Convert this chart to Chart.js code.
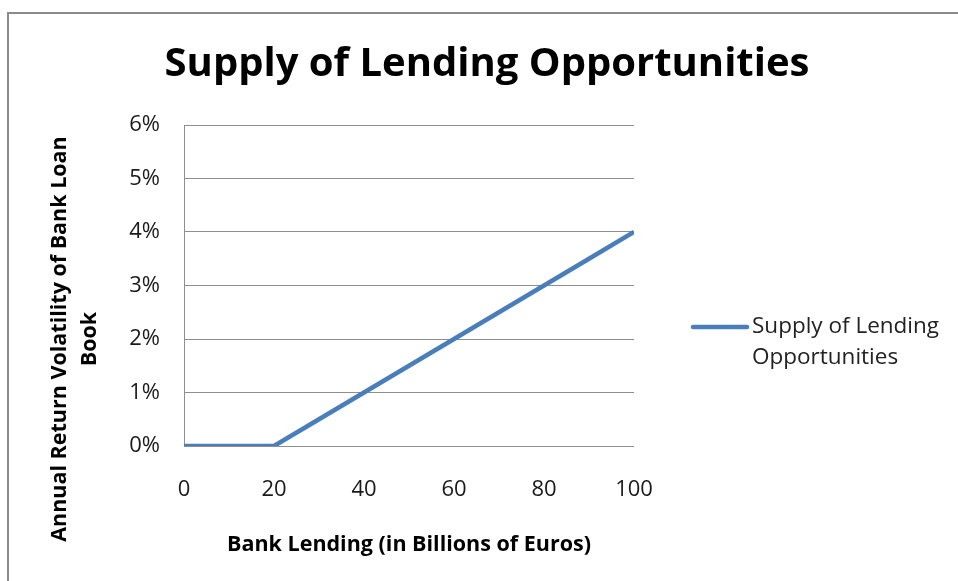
<!DOCTYPE html>
<html>
<head>
<meta charset="utf-8">
<title>Supply of Lending Opportunities</title>
<script src="https://cdn.jsdelivr.net/npm/chart.js@4"></script>
<style>
    html, body { margin: 0; padding: 0; background: #fff; }
    #wrap { width: 958px; height: 581px; }
</style>
</head>
<body>
<div id="wrap"><canvas id="supplyChart" width="958" height="581"></canvas></div>
<script>
// lending in billions of euros, volatility as a fraction
const lending = [0, 10, 20, 30, 40, 50, 60, 70, 80, 90, 100];
const volatility = [0, 0, 0, 0.005, 0.01, 0.015, 0.02, 0.025, 0.03, 0.035, 0.04];
const xTicks = [0, 20, 40, 60, 80, 100];
const yTicks = [0, 0.01, 0.02, 0.03, 0.04, 0.05, 0.06];

const chartTitle = 'Supply of Lending Opportunities';
const seriesName = ['Supply of Lending', 'Opportunities'];
const xTitle = 'Bank Lending (in Billions of Euros)';
const yTitle = ['Annual Return Volatility of Bank Loan', 'Book'];

const FONT = '"Open Sans", sans-serif';
const LINE_COLOR = '#4a7ebb';
const GRID_COLOR = '#8e8e8e';

// frame, title, rotated y title and the wrapped legend
const decorations = {
    id: 'decorations',
    beforeDraw(chart) {
        const ctx = chart.ctx;
        ctx.save();
        ctx.fillStyle = '#fff';
        ctx.fillRect(0, 0, chart.width, chart.height);
        ctx.strokeStyle = '#8a8a8a';
        ctx.lineWidth = 2;
        ctx.beginPath();
        ctx.moveTo(8, chart.height);
        ctx.lineTo(8, 13);
        ctx.lineTo(chart.width, 13);
        ctx.stroke();
        ctx.restore();
    },
    afterDraw(chart) {
        const ctx = chart.ctx;
        ctx.save();
        ctx.fillStyle = '#000';
        ctx.textAlign = 'center';
        ctx.textBaseline = 'middle';
        ctx.font = 'bold 40px ' + FONT;
        ctx.fillText(chartTitle, 487, 65);

        ctx.font = 'bold 21.5px ' + FONT;
        ctx.translate(75, 339);
        ctx.rotate(-Math.PI / 2);
        ctx.fillText(yTitle[0], 0, -15);
        ctx.fillText(yTitle[1], 0, 15);
        ctx.restore();

        ctx.save();
        const ds = chart.data.datasets[0];
        ctx.strokeStyle = ds.borderColor;
        ctx.lineWidth = ds.borderWidth;
        ctx.lineCap = 'round';
        ctx.beginPath();
        ctx.moveTo(693, 327);
        ctx.lineTo(747, 327);
        ctx.stroke();
        ctx.fillStyle = '#222';
        ctx.font = '22.5px ' + FONT;
        ctx.textAlign = 'left';
        ctx.textBaseline = 'middle';
        ctx.fillText(seriesName[0], 752, 327);
        ctx.fillText(seriesName[1], 752, 358);
        ctx.restore();
    }
};

new Chart(document.getElementById('supplyChart'), {
    type: 'scatter',
    data: {
        datasets: [{
            label: seriesName.join(' '),
            data: lending.map((x, i) => ({ x: x, y: volatility[i] })),
            showLine: true,
            borderColor: LINE_COLOR,
            borderWidth: 4.5,
            pointRadius: 0,
            tension: 0
        }]
    },
    options: {
        responsive: false,
        animation: false,
        layout: { padding: { top: 125, right: 324, bottom: 19, left: 0 } },
        plugins: {
            legend: { display: false },
            title: { display: false },
            tooltip: { enabled: false }
        },
        scales: {
            x: {
                type: 'linear',
                min: 0,
                max: 100,
                afterBuildTicks: scale => { scale.ticks = xTicks.map(v => ({ value: v })); },
                afterFit: scale => { scale.height = 116; },
                grid: { display: false, drawTicks: false },
                border: { display: false },
                ticks: {
                    padding: 31,
                    color: '#1a1a1a',
                    font: { family: FONT, size: 22 }
                },
                title: {
                    display: true,
                    text: xTitle,
                    color: '#000',
                    font: { family: FONT, size: 21.5, weight: 'bold' }
                }
            },
            y: {
                min: 0,
                max: 0.06,
                afterBuildTicks: scale => { scale.ticks = yTicks.map(v => ({ value: v })); },
                afterFit: scale => { scale.width = 184; },
                grid: { color: GRID_COLOR, lineWidth: 1, drawTicks: false },
                border: { display: true, color: GRID_COLOR, width: 1 },
                ticks: {
                    padding: 24,
                    color: '#1a1a1a',
                    font: { family: FONT, size: 22 },
                    callback: v => Math.round(v * 100) + '%'
                }
            }
        }
    },
    plugins: [decorations]
});
</script>
</body>
</html>
